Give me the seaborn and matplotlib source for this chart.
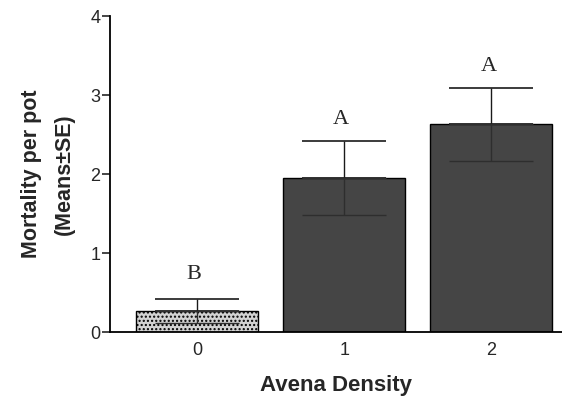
import matplotlib
matplotlib.use("Agg")
import matplotlib.pyplot as plt
import seaborn as sns
import numpy as np

categories = ["0", "1", "2"]
means = [0.27, 1.95, 2.63]
se = [0.15, 0.47, 0.46]
letters = ["B", "A", "A"]
yticks = [0, 1, 2, 3, 4]

sns.set_style("white")
plt.rcParams['font.family'] = ['Liberation Sans Narrow', 'Liberation Sans', 'DejaVu Sans']
plt.rcParams['hatch.color'] = '#9a9a9a'

fig = plt.figure(figsize=(5.62, 4.04), dpi=100)
ax = fig.add_axes([0.196, 0.178, 0.804, 0.782])

colors = ["#d2d2d2", "#454545", "#454545"]
sns.barplot(x=categories, y=means, hue=categories, palette=colors, legend=False,
            width=0.83, edgecolor="black", linewidth=1.0, ax=ax, errorbar=None)
ax.patches[0].set_hatch("....")
ax.patches[0].set_edgecolor("black")

x = np.arange(len(categories))
zeros = [0] * len(se)
# upper half of the error bars
ax.errorbar(x, means, yerr=[zeros, se], fmt="none", ecolor="#1a1a1a", elinewidth=1.0,
            capsize=30, capthick=1.2)
# lower half, faint inside the bars
ax.errorbar(x, means, yerr=[se, zeros], fmt="none", ecolor="#2e2e2e", elinewidth=1.0,
            capsize=30, capthick=1.0)

for xi, m, s, l in zip(x, means, se, letters):
    off = 0.19 if l == "B" else 0.15
    ax.text(xi - 0.02, m + s + off, l, ha="center", va="bottom",
            fontsize=16, family=["Liberation Serif", "DejaVu Serif"])

ax.set_xlim(-0.59, 2.48)
ax.set_ylim(0, 4)
ax.set_yticks(yticks)
ax.set_yticklabels([str(t) for t in yticks], fontsize=13)
ax.tick_params(axis="x", length=0, labelsize=13, pad=7)
ax.tick_params(axis="y", direction="out", length=6, width=1.2, left=True, labelsize=13, pad=1)
for s in ["top", "right"]:
    ax.spines[s].set_visible(False)
ax.spines["left"].set_linewidth(1.3)
ax.spines["bottom"].set_linewidth(1.3)
ax.spines["left"].set_color("black")
ax.spines["bottom"].set_color("black")

ax.set_xlabel("Avena Density", fontsize=16, fontweight="bold", labelpad=12)
ax.set_ylabel("Mortality per pot\n(Means\u00b1SE)", fontsize=15.5, fontweight="bold", labelpad=11,
              linespacing=1.75)

fig.savefig("out.png", dpi=100)
